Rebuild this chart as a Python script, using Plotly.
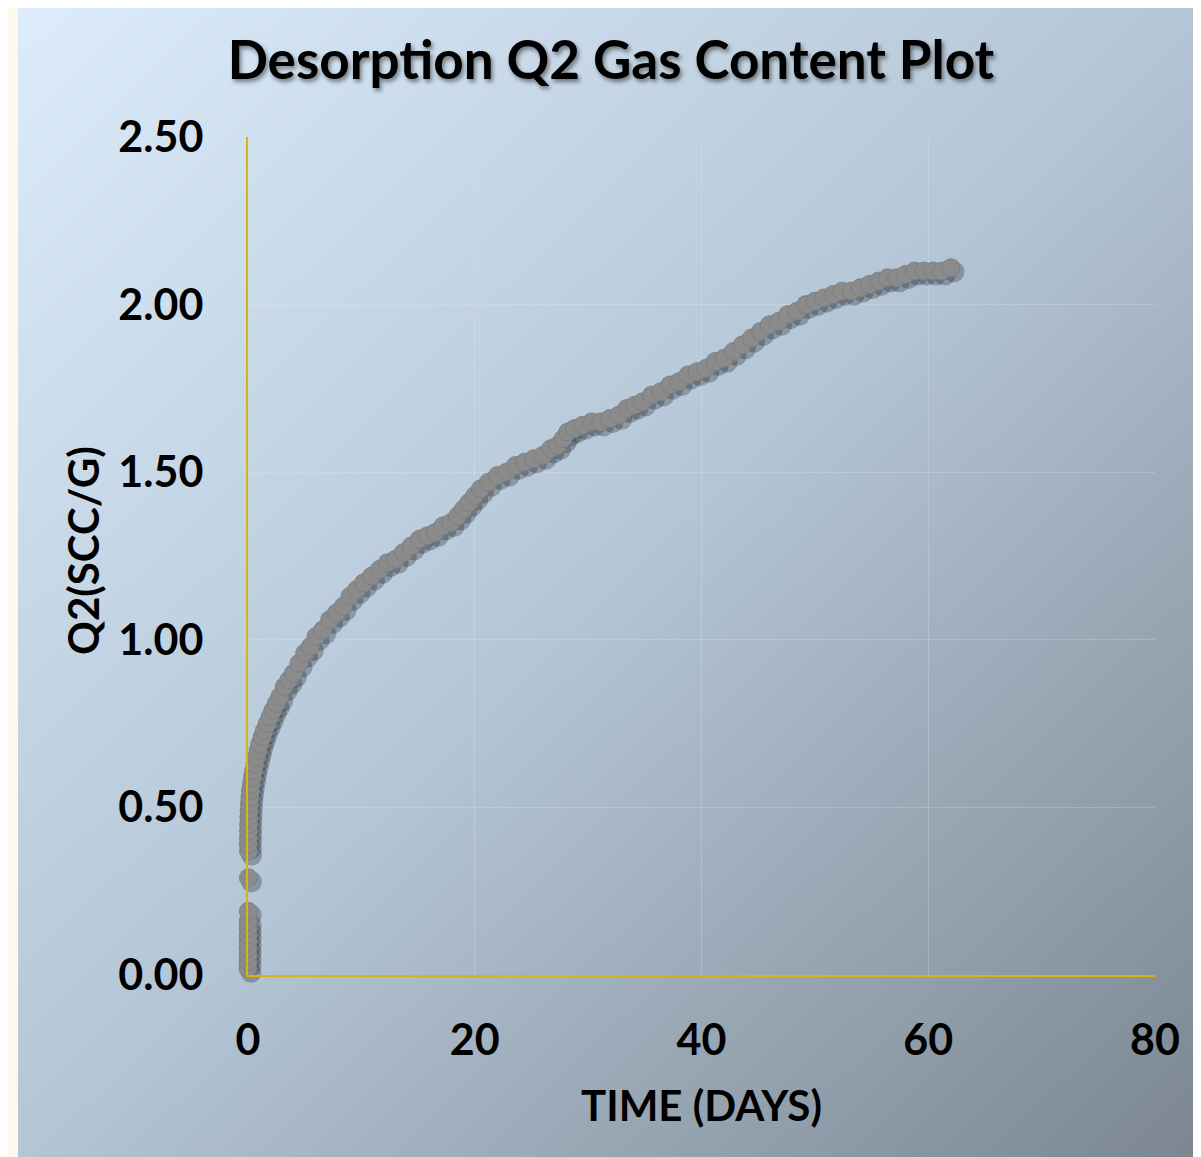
import base64
import plotly.graph_objects as go

# ---- data ----
time_days = [
    0.00, 0.00, 0.01, 0.01, 0.01, 0.02, 0.02, 0.02, 0.03, 0.04, 0.05,
    0.03, 0.04, 0.05, 0.06, 0.08, 0.10, 0.13, 0.17, 0.22, 0.30, 0.40, 0.50,
    0.62, 0.75, 0.90, 1.05, 1.25, 1.45, 1.70, 1.95, 2.20, 2.50, 2.80, 3.20,
    3.60, 4.00, 4.50, 5.00, 5.50, 6.00, 6.60, 7.20, 7.80, 8.40, 9.00, 9.60,
    10.2, 10.9, 11.6, 12.3, 13.0, 13.7, 14.4, 15.1, 15.8, 16.5, 17.2, 17.9,
    18.5, 19.0, 19.5, 20.0, 20.5, 21.2, 22.0, 22.8, 23.6, 24.4, 25.2, 26.0,
    26.7, 27.3, 27.8, 28.2, 28.8, 29.5, 30.3, 31.1, 31.9, 32.7, 33.4, 34.1,
    34.8, 35.6, 36.4, 37.2, 38.0, 38.8, 39.6, 40.4, 41.2, 42.0, 42.8, 43.6,
    44.4, 45.2, 46.0, 46.8, 47.6, 48.4, 49.2, 50.0, 50.8, 51.6, 52.4, 53.2,
    54.0, 54.8, 55.6, 56.4, 57.2, 58.0, 58.8, 59.6, 60.4, 61.2, 62.0,
]
q2_scc_g = [
    0.02, 0.04, 0.06, 0.08, 0.10, 0.12, 0.14, 0.16, 0.19, 0.29, 0.37,
    0.39, 0.41, 0.43, 0.45, 0.47, 0.49, 0.51, 0.53, 0.55, 0.57, 0.59, 0.61,
    0.63, 0.65, 0.67, 0.69, 0.71, 0.73, 0.75, 0.77, 0.79, 0.81, 0.83, 0.86,
    0.88, 0.90, 0.93, 0.96, 0.98, 1.01, 1.03, 1.06, 1.08, 1.10, 1.13, 1.15,
    1.17, 1.19, 1.21, 1.23, 1.24, 1.26, 1.28, 1.30, 1.31, 1.32, 1.34, 1.35,
    1.37, 1.39, 1.41, 1.43, 1.45, 1.47, 1.49, 1.50, 1.52, 1.53, 1.54, 1.55,
    1.57, 1.58, 1.60, 1.62, 1.63, 1.64, 1.65, 1.65, 1.66, 1.67, 1.69, 1.70,
    1.71, 1.73, 1.74, 1.76, 1.77, 1.79, 1.80, 1.81, 1.83, 1.84, 1.86, 1.88,
    1.90, 1.92, 1.94, 1.95, 1.97, 1.98, 2.00, 2.01, 2.02, 2.03, 2.04, 2.04,
    2.05, 2.06, 2.07, 2.08, 2.08, 2.09, 2.10, 2.10, 2.10, 2.10, 2.11,
]
x_ticks = [0, 20, 40, 60, 80]
y_ticks = [0.0, 0.5, 1.0, 1.5, 2.0, 2.5]

# page offset: the figure div sits 8px in from the page edge
OFF = 8
W, H = 1201, 1157
ML, MT = 248 - OFF, 137 - OFF
MR = W - (1155 - OFF)
MB = H - (975 - OFF)
PW, PH = W - ML - MR, H - MT - MB
FONT = "Lato, 'Open Sans', sans-serif"
AXIS_COLOR = "#d6b511"
GRID_COLOR = "rgba(235,240,245,0.22)"

# gradient background as inline SVG image
BGW, BGH = 1183, 1152
svg = f"""<svg xmlns='http://www.w3.org/2000/svg' width='{BGW}' height='{BGH}'>
<defs><linearGradient id='g' x1='0' y1='0' x2='1' y2='1'>
<stop offset='0' stop-color='#dcecfb'/>
<stop offset='0.5' stop-color='#b4c5d5'/>
<stop offset='1' stop-color='#7b8691'/>
</linearGradient></defs>
<rect width='{BGW}' height='{BGH}' fill='url(#g)'/></svg>"""
bg_src = "data:image/svg+xml;base64," + base64.b64encode(svg.encode()).decode()

def px_x(p):  # page pixel -> paper x
    return (p - OFF - ML) / PW

def px_y(p):  # page pixel -> paper y
    return (H - MB - (p - OFF)) / PH

# shadow offset (pixels) turned into axis-unit shifts
sx_px, sy_px = 3, 4
x_shift = sx_px * 80 / PW
y_shift = sy_px * 2.5 / PH

fig = go.Figure()
# shadow trace on hidden, slightly shifted axes
fig.add_trace(go.Scatter(
    x=time_days, y=q2_scc_g, mode="markers", xaxis="x", yaxis="y",
    marker=dict(size=21, color="rgba(25,35,45,0.30)", line=dict(width=0)),
    cliponaxis=False, hoverinfo="skip", showlegend=False,
))
# main trace
fig.add_trace(go.Scatter(
    x=time_days, y=q2_scc_g, mode="markers", xaxis="x2", yaxis="y2",
    marker=dict(size=18, color="#8b8b8b", line=dict(width=1, color="rgba(125,125,125,0.9)")),
    cliponaxis=False, showlegend=False,
))

tickfont = dict(family=FONT, size=43, color="black", weight="bold")
fig.update_layout(
    width=W, height=H,
    margin=dict(l=ML, r=MR, t=MT, b=MB),
    paper_bgcolor="#fdf9ec",
    plot_bgcolor="rgba(0,0,0,0)",
    showlegend=False,
    title=dict(
        text="Desorp<span style='color:#010101'>t</span>ion Q2 Gas Content Plot",
        x=(611 - OFF) / W, xanchor="center", y=1 - (60 - OFF) / H, yanchor="middle",
        font=dict(family=FONT, size=53, color="black", weight="bold",
                  shadow="2px 3px 4px rgba(0,0,0,0.45)"),
    ),
    xaxis=dict(range=[0 - x_shift, 80 - x_shift], visible=False, fixedrange=True),
    yaxis=dict(range=[0 + y_shift, 2.5 + y_shift], visible=False, fixedrange=True),
    xaxis2=dict(
        overlaying="x", anchor="y2", side="bottom", range=[0, 80],
        tickvals=x_ticks, ticktext=[str(v) for v in x_ticks],
        showgrid=True, gridcolor=GRID_COLOR, gridwidth=1, zeroline=False,
        showline=True, linecolor=AXIS_COLOR, linewidth=2, ticks="",
        tickfont=tickfont, ticklabelstandoff=26,
    ),
    yaxis2=dict(
        overlaying="y", anchor="x2", side="left", range=[0, 2.5],
        tickvals=y_ticks, ticktext=[f"{v:.2f}" for v in y_ticks],
        showgrid=True, gridcolor=GRID_COLOR, gridwidth=1, zeroline=False,
        showline=True, linecolor=AXIS_COLOR, linewidth=2, ticks="",
        tickfont=tickfont, ticklabelstandoff=34,
    ),
    images=[dict(
        source=bg_src, xref="paper", yref="paper",
        x=px_x(18), y=px_y(5),
        sizex=BGW / PW, sizey=BGH / PH,
        xanchor="left", yanchor="top", sizing="stretch", layer="below",
    )],
    annotations=[
        dict(text="Q2(SCC/G)", xref="paper", yref="paper",
             x=px_x(83), y=px_y(551), textangle=-90,
             showarrow=False, xanchor="center", yanchor="middle",
             font=dict(family=FONT, size=42, color="black", weight="bold")),
        dict(text="TIME (DAYS)", xref="paper", yref="paper",
             x=px_x(701), y=px_y(1105),
             showarrow=False, xanchor="center", yanchor="middle",
             font=dict(family=FONT, size=42, color="black", weight="bold")),
    ],
)

fig.write_html("out.html")
